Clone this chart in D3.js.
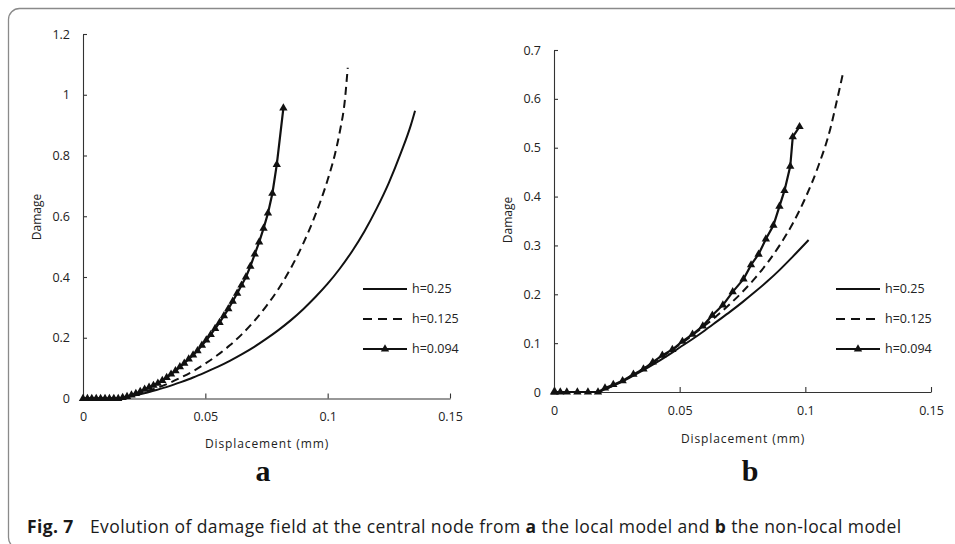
<!DOCTYPE html>
<html>
<head>
<meta charset="utf-8">
<script src="https://cdn.jsdelivr.net/npm/d3@7"></script>
<style>
  body { margin: 0; background: #fff; }
  svg { display: block; }
</style>
</head>
<body>
<svg id="fig" width="955" height="544"></svg>
<script>
// ---- data -------------------------------------------------------------
const seriesNames = ["h=0.25", "h=0.125", "h=0.094"];
const xTickValues = [0, 0.05, 0.1, 0.15];
const yTicksLocal = [0, 0.2, 0.4, 0.6, 0.8, 1, 1.2];
const yTicksNonLocal = [0, 0.1, 0.2, 0.3, 0.4, 0.5, 0.6, 0.7];

// (a) local model
const localCoarseDisp   = [0, 0.014, 0.02, 0.025, 0.03, 0.035, 0.04, 0.045, 0.05, 0.055, 0.06, 0.065, 0.07, 0.075, 0.08, 0.085, 0.09, 0.095, 0.1, 0.105, 0.11, 0.115, 0.12, 0.125, 0.13, 0.134, 0.1357];
const localCoarseDamage = [0, 0, 0.008, 0.017, 0.028, 0.04, 0.054, 0.069, 0.086, 0.104, 0.124, 0.146, 0.17, 0.197, 0.226, 0.258, 0.294, 0.334, 0.378, 0.428, 0.485, 0.55, 0.625, 0.71, 0.81, 0.9, 0.947];

const localMediumDisp   = [0, 0.014, 0.02, 0.025, 0.03, 0.035, 0.04, 0.045, 0.05, 0.055, 0.06, 0.065, 0.07, 0.075, 0.08, 0.085, 0.09, 0.095, 0.1, 0.103, 0.105, 0.107, 0.1082];
const localMediumDamage = [0, 0, 0.01, 0.021, 0.034, 0.05, 0.069, 0.09, 0.115, 0.143, 0.175, 0.212, 0.255, 0.305, 0.362, 0.43, 0.51, 0.605, 0.72, 0.805, 0.88, 0.98, 1.089];

const localFineDisp   = [0, 0.0018, 0.0036, 0.0054, 0.0072, 0.009, 0.0108, 0.0126, 0.0144, 0.0162, 0.018, 0.0198, 0.0216, 0.0234, 0.0252, 0.027, 0.0288, 0.0306, 0.0324, 0.0342, 0.036, 0.0378, 0.0396, 0.0414, 0.0432, 0.045, 0.0468, 0.0486, 0.0504, 0.0522, 0.054, 0.0558, 0.0576, 0.0594, 0.0612, 0.063, 0.0648, 0.0666, 0.0684, 0.0702, 0.072, 0.0738, 0.0756, 0.0774, 0.0792, 0.0819];
const localFineDamage = [0, 0, 0, 0, 0, 0, 0, 0, 0, 0.003, 0.006, 0.011, 0.016, 0.023, 0.03, 0.037, 0.043, 0.05, 0.059, 0.069, 0.08, 0.091, 0.104, 0.116, 0.13, 0.143, 0.157, 0.175, 0.192, 0.21, 0.23, 0.25, 0.272, 0.295, 0.32, 0.346, 0.373, 0.4, 0.435, 0.475, 0.515, 0.56, 0.61, 0.675, 0.77, 0.956];

// (b) non-local model
const nonLocalCoarseDisp   = [0, 0.0175, 0.02, 0.025, 0.03, 0.035, 0.04, 0.045, 0.05, 0.055, 0.06, 0.065, 0.07, 0.075, 0.08, 0.085, 0.09, 0.095, 0.1013];
const nonLocalCoarseDamage = [0, 0, 0.005, 0.016, 0.029, 0.043, 0.058, 0.074, 0.091, 0.108, 0.126, 0.145, 0.164, 0.184, 0.205, 0.227, 0.251, 0.277, 0.311];

const nonLocalMediumDisp   = [0, 0.0175, 0.02, 0.025, 0.03, 0.035, 0.04, 0.045, 0.05, 0.055, 0.06, 0.065, 0.07, 0.075, 0.08, 0.085, 0.09, 0.095, 0.1, 0.105, 0.11, 0.1125, 0.115];
const nonLocalMediumDamage = [0, 0, 0.005, 0.017, 0.031, 0.046, 0.062, 0.079, 0.097, 0.116, 0.136, 0.157, 0.18, 0.205, 0.233, 0.265, 0.302, 0.345, 0.397, 0.46, 0.54, 0.595, 0.653];

const nonLocalFineDisp   = [0, 0.0004, 0.0025, 0.0051, 0.0093, 0.0135, 0.0175, 0.0203, 0.0236, 0.0273, 0.0316, 0.0356, 0.0393, 0.0431, 0.0471, 0.0511, 0.0551, 0.0592, 0.063, 0.0672, 0.0711, 0.0754, 0.0784, 0.0814, 0.0843, 0.0873, 0.0897, 0.0917, 0.094, 0.095, 0.0977];
const nonLocalFineDamage = [0, 0, 0, 0, 0, 0, 0, 0.008, 0.015, 0.023, 0.036, 0.047, 0.061, 0.075, 0.087, 0.1035, 0.118, 0.135, 0.157, 0.178, 0.205, 0.231, 0.26, 0.282, 0.313, 0.341, 0.38, 0.412, 0.462, 0.522, 0.543];

// ---- drawing ----------------------------------------------------------
const svg = d3.select("#fig");
const FONT = "'Open Sans', 'Noto Sans', sans-serif";
const INK = "#111";

// rounded frame around the figure
svg.append("rect")
  .attr("x", 8.5).attr("y", 8.5)
  .attr("width", 962).attr("height", 540)
  .attr("rx", 11).attr("ry", 11)
  .attr("fill", "none").attr("stroke", "#8a8a8a").attr("stroke-width", 1.3);

const zip = (xs, ys) => xs.map((x, i) => ({ x, y: ys[i] }));

const panels = [
  {
    left: 83, right: 450, top: 34, bottom: 398.5,
    yMax: 1.2, yTicks: yTicksLocal,
    series: [zip(localCoarseDisp, localCoarseDamage), zip(localMediumDisp, localMediumDamage), zip(localFineDisp, localFineDamage)],
    yLabelX: 41, yLabelY: 217,
    xLabelX: 267, xLabelY: 448,
    tag: "a", tagX: 263, tagY: 481,
    legendX: 363, legendY: 289
  },
  {
    left: 554, right: 931, top: 50, bottom: 392,
    yMax: 0.7, yTicks: yTicksNonLocal,
    series: [zip(nonLocalCoarseDisp, nonLocalCoarseDamage), zip(nonLocalMediumDisp, nonLocalMediumDamage), zip(nonLocalFineDisp, nonLocalFineDamage)],
    yLabelX: 512, yLabelY: 220,
    xLabelX: 743, xLabelY: 443,
    tag: "b", tagX: 750, tagY: 481,
    legendX: 836, legendY: 289
  }
];

const styles = [
  { dash: null, width: 2, marker: false },
  { dash: "8,5", width: 2, marker: false },
  { dash: null, width: 2.2, marker: true }
];

const triangle = d3.symbol().type(d3.symbolTriangle).size(30);

panels.forEach(p => {
  const x = d3.scaleLinear().domain([0, 0.15]).range([p.left, p.right]);
  const y = d3.scaleLinear().domain([0, p.yMax]).range([p.bottom, p.top]);
  const g = svg.append("g");

  // axes with inward ticks
  const xAxis = g.append("g").attr("transform", `translate(0,${p.bottom})`)
    .call(d3.axisBottom(x).tickValues(xTickValues).tickSizeInner(-5).tickSizeOuter(0).tickPadding(14).tickFormat(d => String(d)));
  const yAxis = g.append("g").attr("transform", `translate(${p.left},0)`)
    .call(d3.axisLeft(y).tickValues(p.yTicks).tickSizeInner(-4).tickSizeOuter(0).tickPadding(13).tickFormat(d => String(d)));
  [xAxis, yAxis].forEach(a => {
    a.select(".domain").attr("stroke", "#333").attr("stroke-width", 1.1);
    a.selectAll(".tick line").attr("stroke", "#333").attr("stroke-width", 1.1);
    a.selectAll(".tick text").attr("fill", "#222").style("font-family", FONT).style("font-size", "12.5px");
  });

  // curves
  const line = d3.line().x(d => x(d.x)).y(d => y(d.y));
  p.series.forEach((data, i) => {
    const s = styles[i];
    g.append("path").datum(data)
      .attr("d", line.curve(s.marker ? d3.curveLinear : d3.curveMonotoneX))
      .attr("fill", "none").attr("stroke", INK)
      .attr("stroke-width", s.width)
      .attr("stroke-dasharray", s.dash)
      .attr("stroke-linejoin", "round");
    if (s.marker) {
      g.selectAll(null).data(data).join("path")
        .attr("d", triangle)
        .attr("transform", d => `translate(${x(d.x)},${y(d.y)})`)
        .attr("fill", INK);
    }
  });

  // legend
  seriesNames.forEach((name, i) => {
    const s = styles[i];
    const ly = p.legendY + i * 30;
    g.append("line")
      .attr("x1", p.legendX).attr("x2", p.legendX + 44)
      .attr("y1", ly).attr("y2", ly)
      .attr("stroke", INK).attr("stroke-width", s.width)
      .attr("stroke-dasharray", s.dash ? "9,6" : null);
    if (s.marker) {
      g.append("path").attr("d", triangle)
        .attr("transform", `translate(${p.legendX + 22},${ly})`).attr("fill", INK);
    }
    g.append("text").attr("x", p.legendX + 49).attr("y", ly).attr("dy", "0.35em")
      .attr("fill", "#222").style("font-family", FONT).style("font-size", "12.5px")
      .text(name);
  });

  // axis titles
  g.append("text")
    .attr("transform", `translate(${p.yLabelX},${p.yLabelY}) rotate(-90)`)
    .attr("text-anchor", "middle").attr("fill", "#222")
    .style("font-family", FONT).style("font-size", "12px")
    .text("Damage");
  g.append("text")
    .attr("x", p.xLabelX).attr("y", p.xLabelY)
    .attr("text-anchor", "middle").attr("fill", "#222")
    .style("font-family", FONT).style("font-size", "12px").style("letter-spacing", "0.9px")
    .text("Displacement (mm)");

  // panel tag
  g.append("text")
    .attr("x", p.tagX).attr("y", p.tagY)
    .attr("text-anchor", "middle").attr("fill", INK)
    .style("font-family", "'Liberation Serif', 'DejaVu Serif', serif")
    .style("font-size", "30px").style("font-weight", "bold")
    .text(p.tag);
});

// figure caption
const cap = svg.append("text").attr("x", 27).attr("y", 533)
  .attr("fill", "#1a1a1a").style("font-family", FONT)
  .style("font-size", "17.5px").style("letter-spacing", "0.4px");
cap.append("tspan").style("font-weight", "bold").text("Fig. 7");
cap.append("tspan").attr("x", 90).text("Evolution of damage field at the central node from ");
cap.append("tspan").style("font-weight", "bold").text("a");
cap.append("tspan").text(" the local model and ");
cap.append("tspan").style("font-weight", "bold").text("b");
cap.append("tspan").text(" the non-local model");
</script>
</body>
</html>
